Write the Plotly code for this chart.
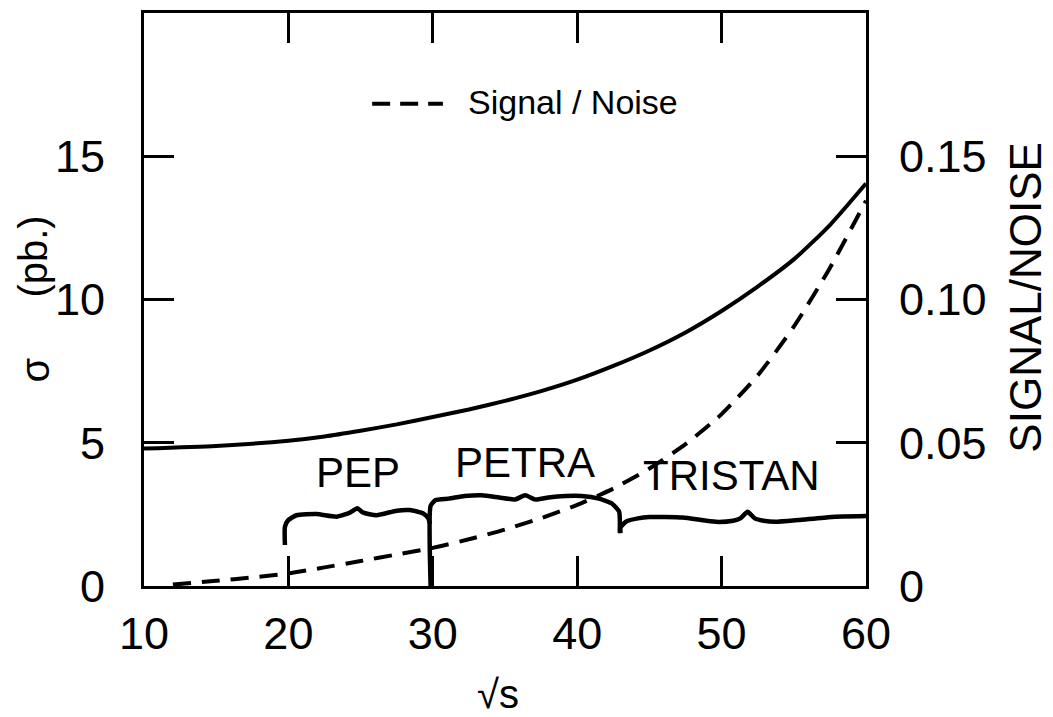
import plotly.graph_objects as go

# ---- data ----
sigma_x = [10, 15, 20, 22.5, 25, 27.5, 30, 32.5, 35, 37.5, 40, 42.5, 45, 47.5, 50, 52.5, 55, 57.5, 60]
sigma_y = [4.80, 4.89, 5.07, 5.22, 5.42, 5.64, 5.90, 6.16, 6.46, 6.80, 7.20, 7.68, 8.22, 8.85,
           9.60, 10.45, 11.40, 12.60, 14.05]

sn_x = [12, 15, 17.5, 20, 22.5, 25, 27.5, 30, 32.5, 35, 37.5, 40, 42.5, 45, 47.5, 50, 52.5, 55, 57.5, 60]
sn_y = [0.0005, 0.0018, 0.0030, 0.0044, 0.0065, 0.0087, 0.0110, 0.0133, 0.0163, 0.0197,
        0.0237, 0.0283, 0.0340, 0.0410, 0.0495, 0.0600, 0.0735, 0.0905, 0.1110, 0.1345]

pep_x = [19.76, 19.76, 19.99, 20.56, 21.95, 23.33, 24.26, 24.77, 25.18, 26.1, 27.5, 28.42, 29.34, 29.69, 29.8]
pep_y = [1.43, 2.07, 2.30, 2.47, 2.51, 2.42, 2.56, 2.71, 2.56, 2.47, 2.63, 2.65, 2.53, 2.36, 2.18]

petra_x = [29.85, 29.85, 30.2, 31.1, 32.2, 33.4, 34.6, 35.7, 36.4, 37.1, 38.0, 39.2, 40.3, 41.5, 42.4, 42.9, 42.95]
petra_y = [0.0, 2.80, 3.0, 3.05, 3.14, 3.17, 3.09, 3.02, 3.17, 3.02, 3.09, 3.14, 3.14, 3.05, 2.88, 2.6, 1.86]

tristan_x = [43.0, 43.0, 43.4, 44.2, 45.0, 47.3, 49.6, 50.8, 51.3, 51.8, 52.3, 52.9, 53.7, 55.3, 57.6, 60.0]
tristan_y = [1.84, 2.05, 2.25, 2.36, 2.41, 2.39, 2.24, 2.28, 2.36, 2.59, 2.36, 2.28, 2.24, 2.30, 2.41, 2.44]

labels = ["PEP", "PETRA", "TRISTAN"]
label_x = [24.8, 36.4, 50.7]
label_y = [3.97, 4.32, 3.87]

x_ticks = [10, 20, 30, 40, 50, 60]
y_ticks = [0, 5, 10, 15]
y2_ticks = [0, 0.05, 0.10, 0.15]
y2_text = ["0", "0.05", "0.10", "0.15"]

FONT = "Liberation Sans, Arial, sans-serif"

fig = go.Figure()
fig.add_trace(go.Scatter(x=sigma_x, y=sigma_y, mode="lines",
                         line=dict(color="black", width=4, shape="spline", smoothing=0.6),
                         showlegend=False, hoverinfo="skip"))
fig.add_trace(go.Scatter(x=sn_x, y=sn_y, mode="lines", yaxis="y2",
                         line=dict(color="black", width=4, dash="18px,11px", shape="spline", smoothing=0.6),
                         showlegend=False, hoverinfo="skip"))
for bx, by in [(pep_x, pep_y), (petra_x, petra_y), (tristan_x, tristan_y)]:
    fig.add_trace(go.Scatter(x=bx, y=by, mode="lines",
                             line=dict(color="black", width=4.5, shape="spline", smoothing=0.5),
                             showlegend=False, hoverinfo="skip"))

for t, lx, ly in zip(labels, label_x, label_y):
    fig.add_annotation(x=lx, y=ly, xref="x", yref="y", text=t, showarrow=False,
                       font=dict(family=FONT, size=42, color="black"))

# legend sample
fig.add_shape(type="line", x0=25.8, x1=30.7, y0=16.83, y1=16.83, xref="x", yref="y",
              line=dict(color="black", width=4, dash="18px,10px"))
fig.add_annotation(x=32.3, y=16.9, xref="x", yref="y", text="Signal / Noise", showarrow=False,
                   xanchor="left", yanchor="middle", font=dict(family=FONT, size=34, color="black"))

# axis titles as annotations
fig.add_annotation(x=-0.151, y=0.378, xref="paper", yref="paper", text="σ", textangle=-90,
                   xanchor="center", yanchor="middle",
                   showarrow=False, font=dict(family=FONT, size=40, color="black"))
fig.add_annotation(x=-0.155, y=0.575, xref="paper", yref="paper", text="(pb.)", textangle=-90,
                   xanchor="center", yanchor="middle",
                   showarrow=False, font=dict(family=FONT, size=40, color="black"))
fig.add_annotation(x=1.2216, y=0.505, xref="paper", yref="paper", text="SIGNAL/NOISE", textangle=-90,
                   xanchor="center", yanchor="middle",
                   showarrow=False, font=dict(family=FONT, size=44, color="black"))
fig.add_annotation(x=0.490, y=-0.189, xref="paper", yref="paper", text="√s",
                   xanchor="center", yanchor="middle",
                   showarrow=False, font=dict(family=FONT, size=40, color="black"))

axis_common = dict(showgrid=False, zeroline=False, showline=True, linecolor="black", linewidth=3,
                   ticks="inside", ticklen=30, tickwidth=3, tickcolor="black",
                   tickfont=dict(family=FONT, size=45, color="black"))

fig.update_layout(
    width=1053, height=717,
    margin=dict(l=144, r=187, t=10, b=131),
    paper_bgcolor="white", plot_bgcolor="white",
    xaxis=dict(range=[10, 60], tickvals=x_ticks, mirror="ticks", ticklabelstandoff=6, **axis_common),
    yaxis=dict(range=[0, 20], tickvals=y_ticks, ticklabelstandoff=27, **axis_common),
    yaxis2=dict(range=[0, 0.2], tickvals=y2_ticks, ticktext=y2_text, overlaying="y", side="right",
                ticklabelstandoff=21, **axis_common),
)

fig.write_html("out.html")
